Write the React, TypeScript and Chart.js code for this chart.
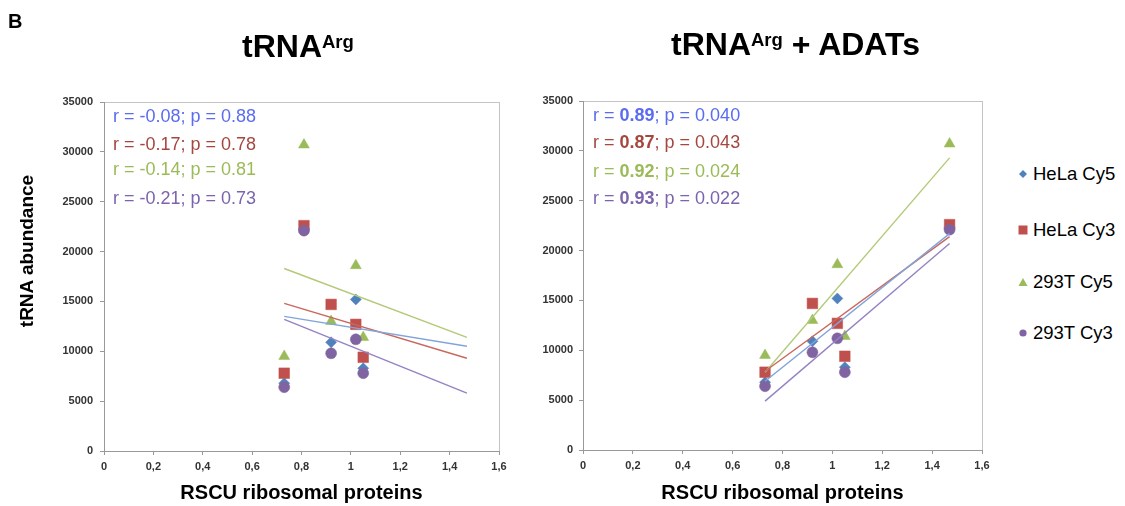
import React, { useEffect, useRef } from 'react';
import { Chart, registerables } from 'chart.js';

Chart.register(...registerables);

// ---------- data ----------
const seriesNames = ['HeLa Cy5', 'HeLa Cy3', '293T Cy5', '293T Cy3'];
const markerColors = ['#4F81BD', '#C0504D', '#9BBB59', '#8064A2'];
const trendColors = ['#80a5da', '#c9675d', '#b2ca78', '#9582c3'];
const textColors = ['#5a6cf0', '#a5463f', '#9bbb59', '#7b64ad'];
const pointStyles = ['rectRot', 'rect', 'triangle', 'circle'];
const pointRadii = [5.5, 7.5, 6.3, 5.5];

// RSCU values of the five codons (left panel / right panel)
const xLeft = [0.73, 0.81, 0.92, 1.02, 1.05];
const xRight = [0.73, 1.47, 0.92, 1.02, 1.05];

// tRNA abundance
const helaCy5 = [6800, 22300, 10900, 15200, 8300];
const helaCy3 = [7800, 22600, 14700, 12700, 9400];
const t293Cy5 = [9500, 30700, 13000, 18600, 11400];
const t293Cy3 = [6400, 22100, 9800, 11200, 7800];

// trend line end points (x from 0.73 to 1.47)
const trendX = [0.73, 1.47];
const leftTrendHelaCy5 = [13500, 10500];
const leftTrendHelaCy3 = [14800, 9300];
const leftTrend293Cy5 = [18300, 11400];
const leftTrend293Cy3 = [13200, 5800];
const rightTrendHelaCy5 = [6900, 21700];
const rightTrendHelaCy3 = [7900, 21400];
const rightTrend293Cy5 = [7800, 29300];
const rightTrend293Cy3 = [4900, 20700];

// annotation texts
const leftR = ['-0.08', '-0.17', '-0.14', '-0.21'];
const leftP = ['0.88', '0.78', '0.81', '0.73'];
const rightR = ['0.89', '0.87', '0.92', '0.93'];
const rightP = ['0.040', '0.043', '0.024', '0.022'];

const xMin = 0;
const xMax = 1.6;
const xStep = 0.2;
const yMin = 0;
const yMax = 35000;
const yStep = 5000;

const FONT = "'Liberation Sans', Arial, Helvetica, sans-serif";

const boxPlugin = {
  id: 'boxBorder',
  beforeDraw(chart: any) {
    const { ctx, chartArea } = chart;
    if (!chartArea) return;
    const { left, top, right, bottom } = chartArea;
    ctx.save();
    ctx.strokeStyle = '#c4c4c4';
    ctx.lineWidth = 1;
    ctx.strokeRect(Math.round(left) + 0.5, Math.round(top) + 0.5, Math.round(right - left), Math.round(bottom - top));
    ctx.restore();
  },
};

function buildConfig(xs: number[], trends: number[][], box: { yWidth: number; top: number; right: number; xHeight: number; yPad: number }) {
  const values = [helaCy5, helaCy3, t293Cy5, t293Cy3];
  const datasets: any[] = [];
  trends.forEach((t, i) => {
    datasets.push({
      type: 'line',
      label: seriesNames[i] + ' trend',
      data: trendX.map((x, k) => ({ x, y: t[k] })),
      borderColor: trendColors[i],
      borderWidth: 1.4,
      pointRadius: 0,
      fill: false,
      order: 0,
    });
  });
  values.forEach((v, i) => {
    datasets.push({
      type: 'scatter',
      label: seriesNames[i],
      data: xs.map((x, k) => ({ x, y: v[k] })),
      pointStyle: pointStyles[i],
      pointRadius: pointRadii[i],
      backgroundColor: markerColors[i],
      borderColor: markerColors[i],
      borderWidth: 0.5,
      order: 4 - i,
    });
  });
  const tickFont = { family: FONT, size: 11, weight: 'bold' as const };
  return {
    type: 'scatter' as const,
    data: { datasets },
    plugins: [boxPlugin],
    options: {
      animation: false as const,
      responsive: false,
      devicePixelRatio: 1,
      layout: { padding: { left: 0, top: box.top, right: box.right, bottom: 0 } },
      plugins: { legend: { display: false }, tooltip: { enabled: false } },
      events: [],
      scales: {
        x: {
          type: 'linear' as const,
          min: xMin,
          max: xMax,
          afterFit: (s: any) => { s.height = box.xHeight; },
          ticks: {
            stepSize: xStep,
            font: tickFont,
            color: '#333',
            padding: 5,
            maxRotation: 0,
            callback: (v: any) => String(Math.round(Number(v) * 10) / 10).replace('.', ','),
          },
          grid: { drawOnChartArea: false, drawTicks: true, tickLength: 4, color: '#999' },
          border: { display: true, color: '#999', width: 1 },
          title: {
            display: true,
            text: 'RSCU ribosomal proteins',
            color: '#000',
            font: { family: FONT, size: 20, weight: 'bold' as const },
            padding: { top: 2, bottom: 1 },
          },
        },
        y: {
          type: 'linear' as const,
          min: yMin,
          max: yMax,
          afterFit: (s: any) => { s.width = box.yWidth; },
          ticks: {
            stepSize: yStep,
            font: tickFont,
            color: '#333',
            padding: box.yPad,
            callback: (v: any) => String(Math.round(Number(v))),
          },
          grid: { drawOnChartArea: false, drawTicks: true, tickLength: 4, color: '#999' },
          border: { display: true, color: '#999', width: 1 },
        },
      },
    },
  };
}

function ChartCanvas(props: { left: number; width: number; xs: number[]; trends: number[][]; box: any }) {
  const ref = useRef<HTMLCanvasElement | null>(null);
  useEffect(() => {
    if (!ref.current) return;
    const chart = new Chart(ref.current, buildConfig(props.xs, props.trends, props.box) as any);
    return () => chart.destroy();
  }, []);
  return (
    <canvas
      ref={ref}
      width={props.width}
      height={506}
      style={{ position: 'absolute', left: props.left, top: 0, width: props.width, height: 506 }}
    />
  );
}

function Annotations(props: { left: number; ys: number[]; r: string[]; p: string[]; boldR: boolean }) {
  const fs = 18;
  return (
    <>
      {props.r.map((r, i) => (
        <div
          key={i}
          style={{
            position: 'absolute',
            left: props.left,
            top: props.ys[i] - fs / 2,
            fontFamily: FONT,
            fontSize: fs,
            lineHeight: fs + 'px',
            color: textColors[i],
            whiteSpace: 'nowrap',
          }}
        >
          r = {props.boldR ? <b>{r}</b> : r}; p = {props.p[i]}
        </div>
      ))}
    </>
  );
}

function Title(props: { left: number; baseline: number; rest?: string }) {
  const fs = 32;
  return (
    <div
      style={{
        position: 'absolute',
        left: props.left,
        top: props.baseline - 0.8465 * fs,
        fontFamily: FONT,
        fontWeight: 'bold',
        fontSize: fs,
        lineHeight: fs + 'px',
        color: '#000',
        whiteSpace: 'nowrap',
      }}
    >
      tRNA
      <span style={{ fontSize: 18.5, lineHeight: '1px', verticalAlign: '9px' }}>Arg</span>
      {props.rest ? ' ' + props.rest : ''}
    </div>
  );
}

function LegendMarker(props: { i: number }) {
  const c = markerColors[props.i];
  const s = pointStyles[props.i];
  let shape: any = null;
  if (s === 'rectRot') shape = <polygon points="6,2 10,6 6,10 2,6" fill={c} />;
  else if (s === 'rect') shape = <rect x="1.5" y="1.5" width="9" height="9" fill={c} />;
  else if (s === 'triangle') shape = <polygon points="6,2 10.5,10 1.5,10" fill={c} />;
  else shape = <circle cx="6" cy="6" r="3.6" fill={c} />;
  return (
    <svg width="12" height="12" style={{ position: 'absolute', left: -6, top: -6 }}>
      {shape}
    </svg>
  );
}

function Legend() {
  const ys = [174, 230, 282, 333];
  const fs = 18.5;
  return (
    <>
      {seriesNames.map((n, i) => (
        <React.Fragment key={n}>
          <div style={{ position: 'absolute', left: 1023, top: ys[i], width: 0, height: 0 }}>
            <LegendMarker i={i} />
          </div>
          <div
            style={{
              position: 'absolute',
              left: 1033,
              top: ys[i] - fs / 2,
              fontFamily: FONT,
              fontSize: fs,
              lineHeight: fs + 'px',
              color: '#000',
              whiteSpace: 'nowrap',
            }}
          >
            {n}
          </div>
        </React.Fragment>
      ))}
    </>
  );
}

export default function App() {
  const leftTrends = [leftTrendHelaCy5, leftTrendHelaCy3, leftTrend293Cy5, leftTrend293Cy3];
  const rightTrends = [rightTrendHelaCy5, rightTrendHelaCy3, rightTrend293Cy5, rightTrend293Cy3];
  return (
    <div style={{ position: 'absolute', left: 0, top: 0, width: 1125, height: 506, background: '#fff', overflow: 'hidden' }}>
      <ChartCanvas left={0} width={520} xs={xLeft} trends={leftTrends} box={{ yWidth: 104, top: 102, right: 21, xHeight: 55, yPad: 7 }} />
      <ChartCanvas left={520} width={480} xs={xRight} trends={rightTrends} box={{ yWidth: 63, top: 101, right: 18, xHeight: 56, yPad: 6 }} />
      <div
        style={{
          position: 'absolute',
          left: 8,
          top: 28 - 0.8465 * 20,
          fontFamily: FONT,
          fontWeight: 'bold',
          fontSize: 20,
          lineHeight: '20px',
        }}
      >
        B
      </div>
      <Title left={242} baseline={57} />
      <Title left={671} baseline={55} rest="+ ADATs" />
      <div
        style={{
          position: 'absolute',
          left: 27 - 100,
          top: 251 - 10,
          width: 200,
          height: 20,
          lineHeight: '20px',
          textAlign: 'center',
          transform: 'rotate(-90deg)',
          transformOrigin: '50% 50%',
          fontFamily: FONT,
          fontWeight: 'bold',
          fontSize: 19,
          whiteSpace: 'nowrap',
        }}
      >
        tRNA abundance
      </div>
      <Annotations left={113} ys={[116, 144, 169, 198]} r={leftR} p={leftP} boldR={false} />
      <Annotations left={593} ys={[115, 142, 171, 198]} r={rightR} p={rightP} boldR={true} />
      <Legend />
    </div>
  );
}
